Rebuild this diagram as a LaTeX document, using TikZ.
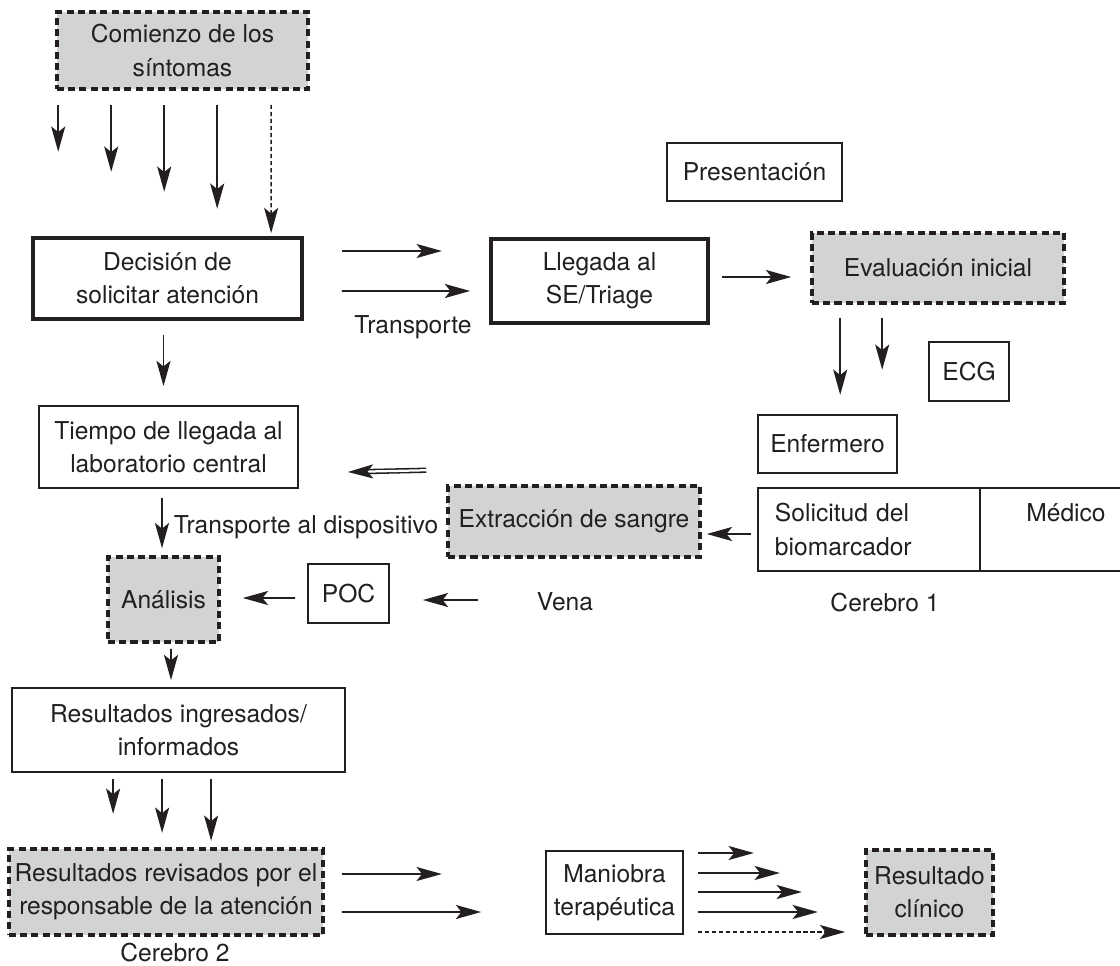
\documentclass[tikz,border=0pt]{standalone}
\usepackage{fontspec}
\setmainfont{TeX Gyre Heros}
\usetikzlibrary{arrows.meta,calc,positioning}
\definecolor{tinta}{HTML}{231F20}
\definecolor{gris}{HTML}{D1D3D4}

\begin{document}
\begin{tikzpicture}[
                    x = 0.025cm, y = -0.025cm,
                    font = \fontsize{17.5}{23.5}\selectfont,
                    every node/.style = {text = tinta},
                    caja/.style = {draw = tinta, line width = 1.2pt, align = center, inner sep = 1pt},
                    cajagruesa/.style = {caja, line width = 2.6pt},
                    cajagris/.style = {caja, fill = gris, line width = 2.5pt, dash pattern = on 5pt off 3pt},
                    marrow/.style = {draw = tinta, line width = 1.1pt, arrows = {-Stealth[width=10pt, length=18pt, inset=4pt]}},
                    punteada/.style = {dash pattern = on 3pt off 2pt}
                ]

                \useasboundingbox (0,0) rectangle (1120,966);

                \node[cajagris, minimum width = 6.275cm, minimum height = 1.925cm] (comienzo) at (182.5,50.5) {Comienzo de los\\síntomas};
                \node[cajagruesa, minimum width = 6.725cm, minimum height = 2.025cm] (decision) at (167.5,278.5) {Decisión de\\solicitar atención};
                \node[cajagruesa, minimum width = 5.425cm, minimum height = 2.1cm] (llegada) at (599.5,281) {Llegada al\\SE/Triage};
                \node (transporte) at (413,327) {Transporte};
                \node[caja, minimum width = 4.375cm, minimum height = 1.45cm] (presentacion) at (754.5,172) {Presentación};
                \node[cajagris, minimum width = 6.3cm, minimum height = 1.75cm] (evaluacion) at (938,268) {Evaluación inicial};
                \node[caja, minimum width = 2cm, minimum height = 1.475cm] (ecg) at (969,371.5) {ECG};
                \node[caja, minimum width = 3.475cm, minimum height = 1.45cm] (enfermero) at (827.5,444) {Enfermero};
                \node[caja, text width = 4.7cm, inner xsep = 0.425cm, align = left, minimum height = 2.075cm] (solicitud) at (869,529.5) {Solicitud del\\biomarcador};
                \node[caja, minimum width = 4.3cm, minimum height = 2.075cm] (medico) at (1066,529.5) {Médico\\\mbox{}};
                \node (cerebro1) at (885,603) {Cerebro 1};
                \node[cajagris, minimum width = 6.3cm, minimum height = 1.775cm] (extraccion) at (574,521.5) {Extracción de sangre};
                \node (vena) at (565,602) {Vena};
                \node[caja, minimum width = 2.025cm, minimum height = 1.475cm] (poc) at (348.5,593.5) {POC};
                \node[cajagris, minimum width = 2.775cm, minimum height = 2.125cm] (analisis) at (163.5,599.5) {Análisis};
                \node[caja, minimum width = 6.475cm, minimum height = 2.05cm] (tiempo) at (168.5,447) {Tiempo de llegada al\\laboratorio central};
                \node (transpdisp) at (306,527) {Transporte al dispositivo};
                \node[caja, minimum width = 8.325cm, minimum height = 2.1cm] (ingresados) at (178.5,730) {Resultados ingresados/\\informados};
                \node[cajagris, minimum width = 7.85cm, minimum height = 2.15cm] (revisados) at (166,892) {Resultados revisados por el\\responsable de la atención};
                \node (cerebro2) at (175,953) {Cerebro 2};
                \node[caja, minimum width = 3.425cm, minimum height = 2.075cm] (maniobra) at (614.5,892.5) {Maniobra\\terapéutica};
                \node[cajagris, minimum width = 3.175cm, minimum height = 2.125cm] (resultado) at (929.5,892.5) {Resultado\\clínico};

                % flechas desde el comienzo
                \foreach \dx/\len in {3/47,56/67,109/87,162/104}
                    \draw[marrow] ($(comienzo.south west)+(\dx,14)$) --++ (0,\len);
                \draw[marrow, punteada] ($(comienzo.south west)+(216,14)$) -- ($(decision.north west)+(240,-3)$);

                \draw[marrow] ($(decision.east)+(38,-27.5)$) --++ (100,0);
                \draw[marrow] ($(decision.east)+(38,12.5)$) -- ($(llegada.west)+(-19,10)$);
                \draw[marrow] ($(llegada.east)+(12,-4)$) -- ($(evaluacion.west)+(-19,9)$);

                \draw[marrow] ($(evaluacion.south west)+(30,13)$) --++ (0,77);
                \draw[marrow] ($(evaluacion.south west)+(72,13)$) --++ (0,52);

                \draw[marrow] ($(decision.south)+(-4,14)$) -- ($(tiempo.north)+(-5,-19)$);
                \draw[marrow, double, double distance = 1.6pt] ($(extraccion.north west)+(-20,-14)$) -- ($(tiempo.east)+(49,25)$);
                \draw[marrow] ($(tiempo.south)+(-6.5,9)$) -- ($(analisis.north)+(-1.5,-7)$);

                \draw[marrow] ($(solicitud.west)+(-6,4.5)$) -- ($(extraccion.east)+(5,12.5)$);
                \draw[marrow] ($(poc.east)+(88,6.5)$) --++ (-55,0);
                \draw[marrow] ($(poc.west)+(-12,4.5)$) -- ($(analisis.east)+(22,-1.5)$);

                \draw[marrow] ($(analisis.south)+(7.5,5)$) -- ($(ingresados.north)+(-7.5,-7)$);
                \foreach \dx/\len in {102/35,151/54,200/62}
                    \draw[marrow] ($(ingresados.south west)+(\dx,6)$) --++ (0,\len);

                \draw[marrow] ($(revisados.east)+(17,-18)$) --++ (100,0);
                \draw[marrow] ($(revisados.east)+(17,20)$) -- ($(maniobra.west)+(-64,19.5)$);

                % flechas hacia el resultado
                \foreach \dy/\len in {-39.5/56,-19.5/82,-0.5/104,19.5/120}
                    \draw[marrow] ($(maniobra.east)+(14,\dy)$) --++ (\len,0);
                \draw[marrow, punteada] ($(maniobra.east)+(14,39.5)$) -- ($(resultado.west)+(-19,39.5)$);

            \end{tikzpicture}
\end{document}
